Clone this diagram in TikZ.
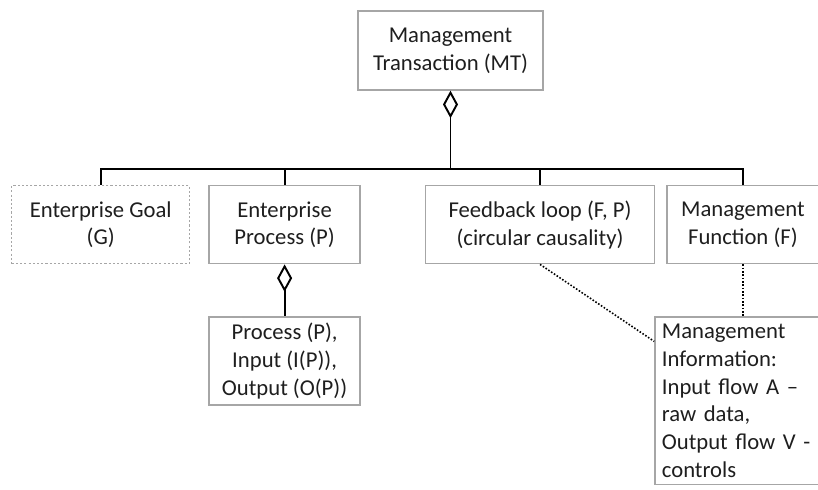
\documentclass[tikz,border=0pt]{standalone}
\usepackage{fontspec}
\setmainfont{Carlito}
\usepackage{tikz}
\usetikzlibrary{positioning,arrows.meta}
\definecolor{boxgray}{HTML}{A6A6A6}
\definecolor{textdark}{HTML}{1E1E1E}

\begin{document}
\begin{tikzpicture}[
    node distance=1cm and 1cm,
    every node/.style={font=\fontsize{12.9}{15.8}\selectfont, text=textdark},
    concept/.style={rectangle, draw=boxgray, line width=0.8pt, align=center, minimum height=1.56cm},
    goalbox/.style={concept, dash pattern=on 1.2pt off 1.2pt},
    infobox/.style={rectangle, draw=boxgray, line width=0.8pt, align=left, text width=4.2cm, inner sep=0.14cm},
    part/.style={{Diamond[open, length=0.55cm, width=0.3cm]}-, line width=1.1pt},
    bar/.style={line width=1.1pt},
    link/.style={densely dotted, line width=0.9pt}
  ]

  \useasboundingbox (0,0) rectangle (16.36,9.78);

  \node (mt) [concept, minimum width=3.7cm, minimum height=1.58cm] at (9.01,8.77) {Management\\Transaction (MT)};
  \node (goal) [goalbox, minimum width=3.56cm, anchor=north west] at (0.22,6.08) {Enterprise Goal\\(G)};
  \node (ep) [concept, minimum width=3.02cm, right=0.36cm of goal] {Enterprise\\Process (P)};
  \node (fl) [concept, minimum width=4.58cm, right=1.28cm of ep] {Feedback loop (F, P)\\(circular causality)};
  \node (mf) [concept, minimum width=3.04cm, right=0.22cm of fl] {Management\\Function (F)};
  \node (pio) [concept, minimum width=3.02cm, minimum height=1.76cm, below=1.04cm of ep] {Process (P),\\Input (I(P)),\\Output (O(P))};
  \node (mi) [infobox, below=1.04cm of mf.south west, anchor=north west, xshift=-0.24cm] {Management\\Information:\\Input flow A --\\raw data,\\Output flow V -\\controls};

  % aggregation lines
  \coordinate (bus) at ([yshift=-1.56cm]mt.south);
  \draw[part] (mt.south) -- (bus);
  \draw[bar] (goal.north) |- (bus) -| (mf.north);
  \draw[bar] (ep.north) -- (ep.north |- bus);
  \draw[bar] (fl.north) -- (fl.north |- bus);
  \draw[part] (ep.south) -- (pio.north);

  % information links
  \draw[link] (fl.south) -- ([yshift=-0.5cm]mi.north west);
  \draw[link] (mf.south) -- (mi.north -| mf.south);
\end{tikzpicture}
\end{document}
